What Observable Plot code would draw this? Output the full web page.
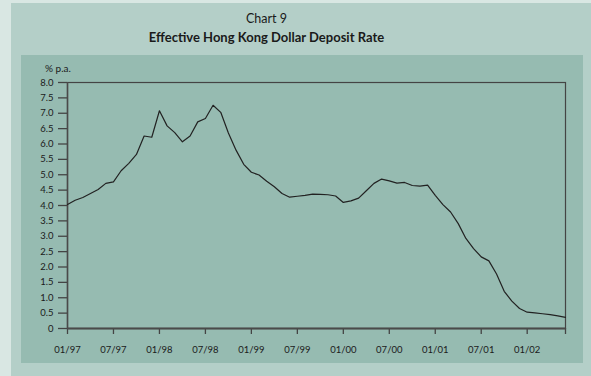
<!DOCTYPE html>
<html>
<head>
<meta charset="utf-8">
<script src="https://cdn.jsdelivr.net/npm/d3@7"></script>
<script src="https://cdn.jsdelivr.net/npm/@observablehq/plot@0.6"></script>
<style>
  html, body { margin: 0; padding: 0; }
  body { width: 591px; height: 376px; background: #d9e7e3; position: relative; overflow: hidden; font-family: "Lato", "DejaVu Sans", sans-serif; color: #1a1a1a; }
  #outer { position: absolute; left: 11px; top: 3px; width: 580px; height: 373px; background: #b4cfc8; }
  #inner { position: absolute; left: 21px; top: 55px; width: 562px; height: 308px; background: #96bbb1; }
  .t { position: absolute; left: 0; width: 533px; text-align: center; line-height: 14px; }
  #t1 { top: 12px; font-size: 12.5px; }
  #t2 { top: 30px; font-size: 13px; font-weight: bold; }
  #unit { position: absolute; left: 45px; top: 62px; font-size: 10px; }
  #chart { position: absolute; left: 0; top: 0; }
</style>
</head>
<body>
<div id="outer"></div>
<div id="inner"></div>
<div class="t" id="t1">Chart 9</div>
<div class="t" id="t2">Effective Hong Kong Dollar Deposit Rate</div>
<div id="unit">% p.a.</div>
<div id="chart"></div>
<script>
// Monthly effective HKD deposit rate, Jan 1997 .. Jun 2002 (% p.a.)
const rates = [
  4.03, 4.17, 4.26, 4.39, 4.52, 4.72, 4.77, 5.13, 5.37, 5.66,
  6.26, 6.22, 7.08, 6.59, 6.37, 6.07, 6.26, 6.72, 6.83, 7.26,
  7.03, 6.36, 5.80, 5.34, 5.08, 4.99, 4.79, 4.61, 4.39, 4.27,
  4.30, 4.33, 4.37, 4.36, 4.35, 4.31, 4.10, 4.15, 4.24, 4.48,
  4.72, 4.86, 4.80, 4.73, 4.75, 4.65, 4.63, 4.66, 4.33, 4.03,
  3.79, 3.41, 2.93, 2.60, 2.33, 2.20, 1.77, 1.21, 0.89, 0.65,
  0.53, 0.51, 0.48, 0.45, 0.41, 0.36
];
const xTickLabels = ["01/97","07/97","01/98","07/98","01/99","07/99","01/00","07/00","01/01","07/01","01/02"];
const yTicks = [0,0.5,1,1.5,2,2.5,3,3.5,4,4.5,5,5.5,6,6.5,7,7.5,8];

const data = rates.map((v, i) => ({month: i, rate: v}));
const lastMonth = rates.length - 1;
const labelAt = new Map(xTickLabels.map((l, k) => [k * 6, l]));
const xTicks = [...labelAt.keys(), lastMonth];

const chart = Plot.plot({
  width: 591,
  height: 376,
  marginLeft: 67,
  marginRight: 26,
  marginTop: 82,
  marginBottom: 48,
  style: {background: "transparent", fontFamily: "Lato, 'DejaVu Sans', sans-serif", fontSize: "9.5px", color: "#1a1a1a"},
  x: {domain: [0, lastMonth]},
  y: {domain: [0, 8]},
  marks: [
    Plot.frame({stroke: "#444", strokeWidth: 1.2}),
    Plot.axisY({ticks: yTicks, tickSize: 9, tickPadding: 5, tickFormat: d => d === 0 ? "0" : d.toFixed(1), label: null, stroke: "#444", strokeWidth: 1.3}),
    Plot.axisX({ticks: xTicks, tickSize: 6, tickPadding: 12, tickFormat: i => labelAt.get(i) ?? "", label: null, stroke: "#444", strokeWidth: 1.3}),
    Plot.ruleY([0], {stroke: "#4a4a4a", strokeWidth: 1.8}),
    Plot.ruleX([0], {stroke: "#4a4a4a", strokeWidth: 1.5}),
    Plot.line(data, {x: "month", y: "rate", stroke: "#222", strokeWidth: 1.2})
  ]
});
document.getElementById("chart").appendChild(chart);
</script>
</body>
</html>
